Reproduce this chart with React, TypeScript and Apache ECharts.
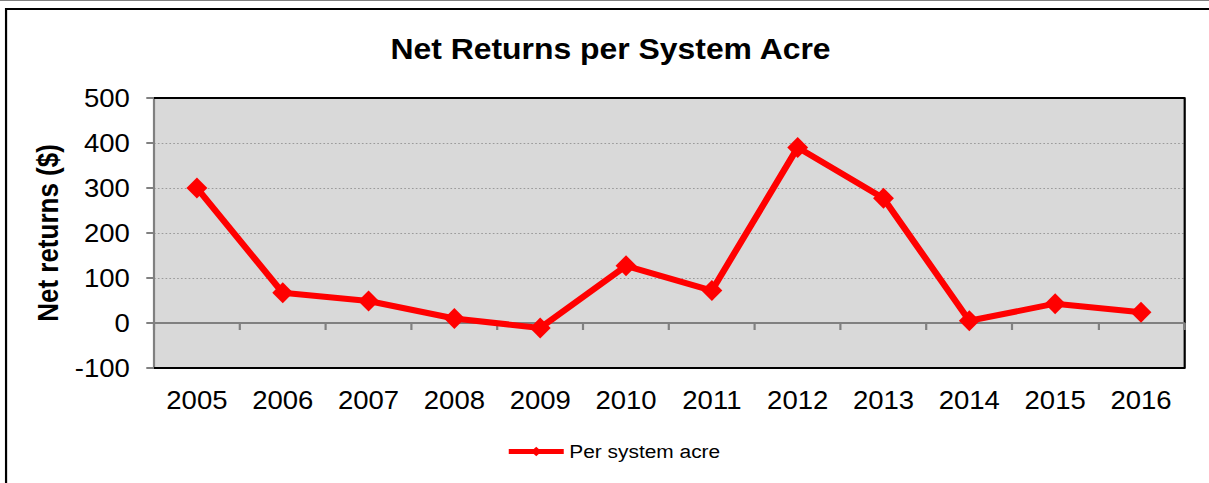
import React, { useEffect, useRef } from "react";
import * as echarts from "echarts";

const years = ["2005", "2006", "2007", "2008", "2009", "2010", "2011", "2012", "2013", "2014", "2015", "2016"];
const perSystemAcre = [300, 67, 49, 10, -11, 127, 72, 390, 277, 5, 43, 24];
const yMin = -100;
const yMax = 500;
const yStep = 100;

const SX = 1.1;
const W = 1209 / SX;
const H = 483;
const FONT = 'Arial, "Liberation Sans", sans-serif';

export default function App() {
  const ref = useRef<HTMLDivElement>(null);
  useEffect(() => {
    if (!ref.current) return;
    document.body.style.margin = "0";
    document.body.style.overflow = "hidden";
    const chart = echarts.init(ref.current, null, { renderer: "svg" });
    chart.setOption({
      animation: false,
      backgroundColor: "#ffffff",
      textStyle: { fontFamily: FONT },
      title: {
        text: "Net Returns per System Acre",
        left: 350,
        top: 29,
        textStyle: { fontSize: 29, fontWeight: "bold", color: "#000", fontFamily: FONT },
      },
      graphic: [
        { type: "line", shape: { x1: 0, y1: 0.5, x2: W, y2: 0.5 }, style: { stroke: "#808080", lineWidth: 1 } },
        { type: "line", shape: { x1: 5.5, y1: 9, x2: W, y2: 9 }, style: { stroke: "#000", lineWidth: 2 } },
        { type: "line", shape: { x1: 5.5, y1: 8, x2: 5.5, y2: H }, style: { stroke: "#000", lineWidth: 2 } },
      ],
      legend: {
        left: 455,
        top: 437,
        itemWidth: 50,
        itemHeight: 12,
        itemGap: 5,
        lineStyle: { width: 5 },
        textStyle: { fontSize: 19, color: "#000", fontFamily: FONT },
        data: ["Per system acre"],
      },
      grid: {
        left: 140,
        right: W - 1184 / SX,
        top: 98,
        bottom: 115,
        show: true,
        backgroundColor: "#d9d9d9",
        borderWidth: 0,
      },
      xAxis: [
        {
          type: "category",
          data: years,
          position: "bottom",
          boundaryGap: true,
          axisLine: { show: true, onZero: true, onZeroAxisIndex: 0, lineStyle: { color: "#808080", width: 2 } },
          axisTick: { show: true, length: 7, lineStyle: { color: "#808080", width: 2 } },
          axisLabel: { show: false },
          splitLine: { show: false },
          z: 1,
        },
        {
          type: "category",
          data: years,
          position: "bottom",
          boundaryGap: true,
          axisLine: { show: true, onZero: false, lineStyle: { color: "#000", width: 2 } },
          axisTick: { show: false },
          axisLabel: { show: true, fontSize: 25, color: "#000", margin: 20, fontFamily: FONT },
          splitLine: { show: false },
        },
        {
          type: "category",
          data: years,
          position: "top",
          boundaryGap: true,
          axisLine: { show: true, onZero: false, lineStyle: { color: "#000", width: 2 } },
          axisTick: { show: false },
          axisLabel: { show: false },
          splitLine: { show: false },
        },
      ],
      yAxis: [
        {
          type: "value",
          min: yMin,
          max: yMax,
          interval: yStep,
          position: "left",
          name: "Net returns ($)",
          nameLocation: "middle",
          nameGap: 70,
          nameTextStyle: { fontSize: 26, fontWeight: "bold", color: "#000", fontFamily: FONT },
          axisLine: { show: true, onZero: false, lineStyle: { color: "#808080", width: 2 } },
          axisTick: { show: true, length: 7, lineStyle: { color: "#808080", width: 2 } },
          axisLabel: { fontSize: 25, color: "#000", margin: 22, fontFamily: FONT },
          splitLine: {
            show: true,
            showMinLine: false,
            showMaxLine: false,
            lineStyle: { color: "#9a9a9a", type: [1.5, 2], width: 1.2 },
          },
        },
        {
          type: "value",
          min: yMin,
          max: yMax,
          interval: yStep,
          position: "right",
          axisLine: { show: true, onZero: false, lineStyle: { color: "#000", width: 2 } },
          axisTick: { show: false },
          axisLabel: { show: false },
          splitLine: { show: false },
        },
      ],
      series: [
        {
          name: "Per system acre",
          type: "line",
          xAxisIndex: 0,
          yAxisIndex: 0,
          data: perSystemAcre,
          symbol: "diamond",
          symbolSize: [19, 21],
          lineStyle: { color: "#ff0000", width: 6 },
          itemStyle: { color: "#ff0000" },
          z: 5,
        },
      ],
    });
    return () => chart.dispose();
  }, []);
  return (
    <div style={{ width: 1209, height: H, overflow: "hidden", position: "relative" }}>
      <div
        ref={ref}
        style={{
          position: "absolute",
          left: 0,
          top: 0,
          width: W,
          height: H,
          transform: `scaleX(${SX})`,
          transformOrigin: "0 0",
        }}
      />
    </div>
  );
}
